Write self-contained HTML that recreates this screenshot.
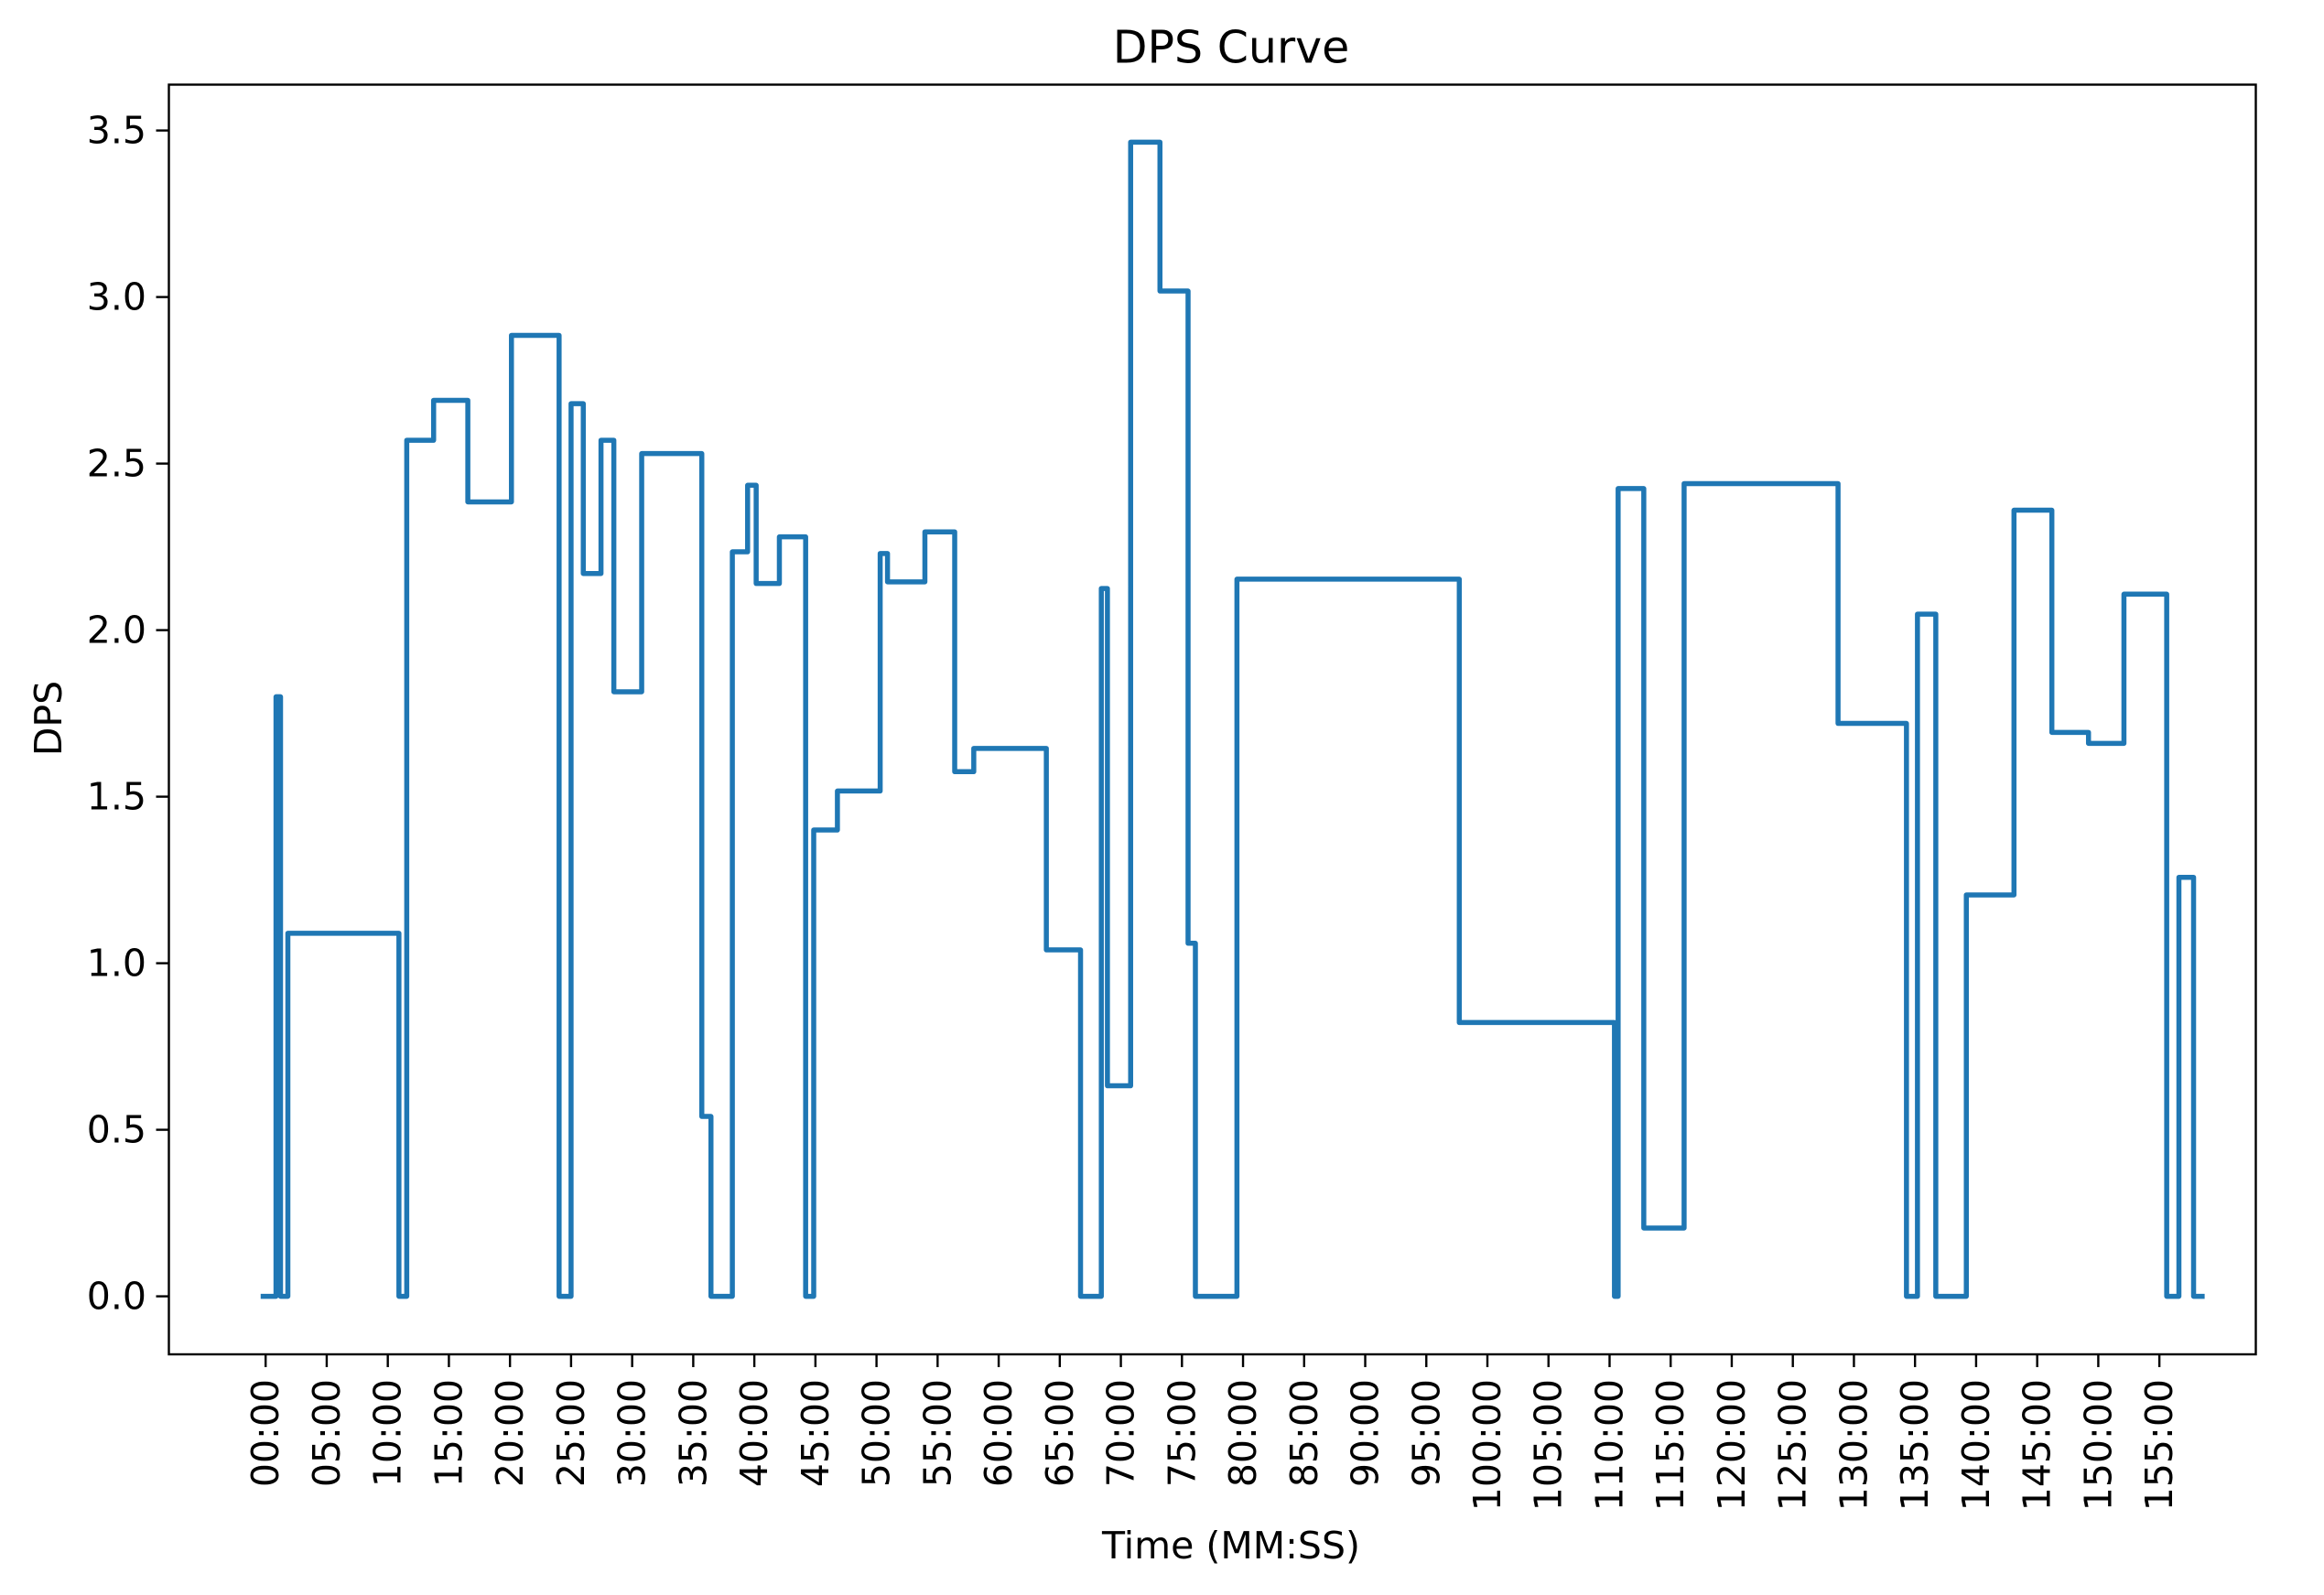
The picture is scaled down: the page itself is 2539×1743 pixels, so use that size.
<!DOCTYPE html>
<html><head><meta charset="utf-8"><style>
html,body{margin:0;padding:0;background:#fff;}
svg{display:block;font-family:"DejaVu Sans","Liberation Sans",sans-serif;}
</style></head><body>
<svg id="chart" width="2539" height="1743" viewBox="0 0 2539 1743">
<rect x="0" y="0" width="2539" height="1743" fill="#fff"/>
<text x="1345" y="52" font-size="49" text-anchor="middle" dominant-baseline="central">DPS Curve</text>
<text x="1345" y="1689" font-size="41" text-anchor="middle" dominant-baseline="central">Time (MM:SS)</text>
<text transform="translate(53,785) rotate(-90)" font-size="41" text-anchor="middle" dominant-baseline="central">DPS</text>
<g id="marks"></g>
<g id="axes"></g>
<rect x="184.5" y="92.5" width="2280" height="1387.5" fill="none" stroke="#000" stroke-width="2.4"/>
</svg>
<script>
const times = [-0.2,0.85,1.22,1.82,10.91,11.55,13.75,16.55,20.12,24.02,25.0,26.0,27.45,28.5,30.78,35.7,36.45,38.2,39.45,40.15,42.05,44.2,44.86,46.8,50.3,50.9,53.96,56.4,57.96,63.9,66.7,68.4,68.9,70.8,73.2,75.5,76.1,79.5,97.7,110.4,110.7,112.8,116.1,128.7,134.3,135.2,136.7,139.2,143.1,146.2,149.2,152.1,155.6,156.6,157.8,158.5];
const values = [0,1.8,0,1.09,0,2.57,2.69,2.385,2.885,0,2.68,2.17,2.57,1.815,2.53,0.54,0,2.235,2.435,2.14,2.28,0,1.40,1.517,2.23,2.145,2.295,1.575,1.645,1.04,0,2.125,0.632,3.465,3.018,1.06,0,2.153,0.822,0,2.425,0.205,2.44,1.72,0,2.048,0,1.205,2.36,1.693,1.66,2.108,0,1.258,0,0];
const xTicks = [0,5,10,15,20,25,30,35,40,45,50,55,60,65,70,75,80,85,90,95,100,105,110,115,120,125,130,135,140,145,150,155];
const yTicks = [0,0.5,1,1.5,2,2.5,3,3.5];

const NS = 'http://www.w3.org/2000/svg';
const xS = t => 290.2 + t * 13.348;
const yS = v => 1416.6 - v * 364;
const marks = document.getElementById('marks');
const axes = document.getElementById('axes');

let d = 'M' + xS(times[0]) + ' ' + yS(values[0]);
for (let i = 1; i < times.length; i++) {
  d += ' H' + xS(times[i]) + ' V' + yS(values[i]);
}
const path = document.createElementNS(NS, 'path');
path.setAttribute('d', d);
path.setAttribute('fill', 'none');
path.setAttribute('stroke', '#1f77b4');
path.setAttribute('stroke-width', '5.5');
path.setAttribute('stroke-linejoin', 'round');
path.setAttribute('stroke-linecap', 'square');


marks.appendChild(path);

function fmt(m){ return (m < 10 ? '0' + m : '' + m) + ':00'; }
xTicks.forEach(t => {
  const x = xS(t);
  const ln = document.createElementNS(NS, 'line');
  ln.setAttribute('x1', x); ln.setAttribute('x2', x);
  ln.setAttribute('y1', 1480); ln.setAttribute('y2', 1494);
  ln.setAttribute('stroke', '#000'); ln.setAttribute('stroke-width', '2.4');
  
  
  axes.appendChild(ln);
  const tx = document.createElementNS(NS, 'text');
  tx.setAttribute('transform', 'translate(' + x + ',1507) rotate(-90)');
  tx.setAttribute('font-size', '41');
  tx.setAttribute('text-anchor', 'end');
  tx.setAttribute('dominant-baseline', 'central');
  tx.textContent = fmt(t);
  
  
  axes.appendChild(tx);
});
yTicks.forEach(v => {
  const y = yS(v);
  const ln = document.createElementNS(NS, 'line');
  ln.setAttribute('x1', 170.5); ln.setAttribute('x2', 184.5);
  ln.setAttribute('y1', y); ln.setAttribute('y2', y);
  ln.setAttribute('stroke', '#000'); ln.setAttribute('stroke-width', '2.4');
  
  
  axes.appendChild(ln);
  const tx = document.createElementNS(NS, 'text');
  tx.setAttribute('x', 160);
  tx.setAttribute('y', y);
  tx.setAttribute('font-size', '41');
  tx.setAttribute('text-anchor', 'end');
  tx.setAttribute('dominant-baseline', 'central');
  tx.textContent = v.toFixed(1);
  
  
  axes.appendChild(tx);
});
</script>
</body></html>
